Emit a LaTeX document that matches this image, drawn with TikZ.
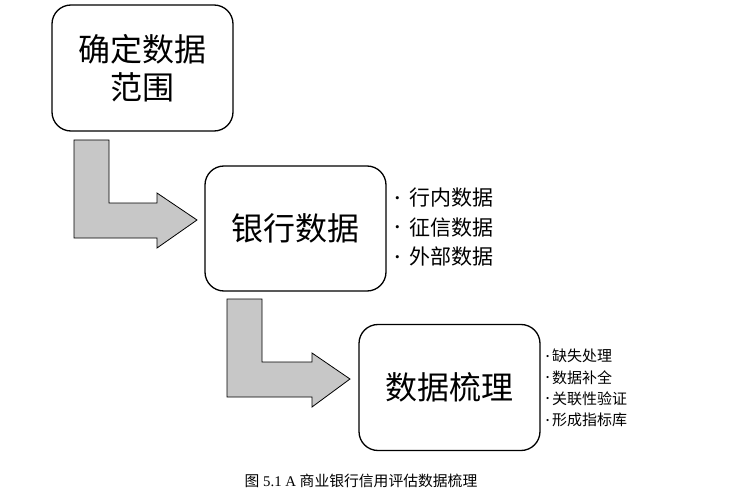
\documentclass[tikz,border=0pt]{standalone}
\usepackage{fontspec}
\setmainfont{Liberation Serif}
\newfontfamily\cjk{Noto Sans CJK SC}[Scale=1]
\newcommand{\dotbig}{\makebox[14pt][l]{\rmfamily\fontsize{13}{13}\selectfont\raisebox{3.5pt}{•}}}
\newcommand{\dotsmall}{\makebox[6pt][l]{\rmfamily\fontsize{9}{9}\selectfont\raisebox{2.5pt}{•}}}
\begin{document}
\begin{tikzpicture}[x=1pt,y=-1pt,
  stage/.style={draw, line width=1.3pt, rounded corners=19pt, align=center, inner sep=0pt, font=\cjk\fontsize{32}{40}\selectfont},
  blockarrow/.style={draw, line width=0.8pt, fill=black!22},
  itemlist/.style={anchor=north west, align=left, inner sep=0pt},
  caption/.style={font=\fontsize{14.8}{17}\selectfont}]
\useasboundingbox (0,0) rectangle (756,503);
\fill[white] (0,0) rectangle (756,503);
% stages
\node[stage, minimum width=181pt, minimum height=126pt] (s1) at (142.5,68) {\raisebox{-2pt}{确定数据}\\[-2pt]\raisebox{-2pt}{范围}};
\node[stage, minimum width=181pt, minimum height=125pt] (s2) at (295.5,228.5) {银行数据};
\node[stage, minimum width=181pt, minimum height=126pt] (s3) at (449.5,387.5) {数据梳理};
% block arrows
\draw[blockarrow] (74,140) -- (109,140) -- (109,203) -- (157,203) -- (157,193) -- (197,220) -- (157,248) -- (157,238) -- (74,238) -- cycle;
\draw[blockarrow] (227,299) -- (262,299) -- (262,362) -- (312,362) -- (312,353) -- (350,379) -- (312,407) -- (312,397) -- (227,397) -- cycle;
% item lists
\node[itemlist, font=\cjk\fontsize{21}{29.5}\selectfont] (l1) at (395,188) {\dotbig 行内数据\\\dotbig 征信数据\\\dotbig 外部数据};
\node[itemlist, font=\cjk\fontsize{15}{21.3}\selectfont] (l2) at (546,349) {\dotsmall 缺失处理\\\dotsmall 数据补全\\\dotsmall 关联性验证\\\dotsmall 形成指标库};
% caption
\node[caption] (cap) at (361,481) {{\cjk 图} 5.1 A {\cjk 商业银行信用评估数据梳理}};
\end{tikzpicture}
\end{document}
